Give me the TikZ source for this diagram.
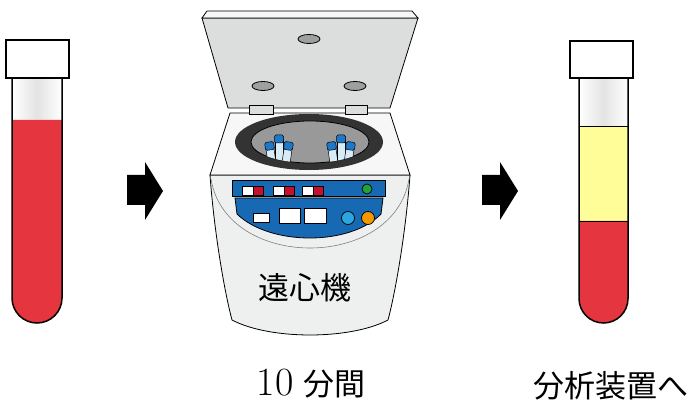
\documentclass[tikz,border=0pt]{standalone}
\usepackage{fontspec}
\newfontfamily\jp{Noto Sans CJK JP}
\usetikzlibrary{positioning}
\definecolor{blood}{HTML}{E5353F}
\definecolor{plasma}{HTML}{FEFD98}
\definecolor{lidgray}{HTML}{DCDDDD}
\definecolor{bodygray}{HTML}{EEEFEF}
\definecolor{rimgray}{HTML}{F7F7F7}
\definecolor{bowldark}{HTML}{333333}
\definecolor{bowlgray}{HTML}{999999}
\definecolor{panelblue}{HTML}{1769B4}
\definecolor{capblue}{HTML}{1E78C8}
\definecolor{glass}{HTML}{D8ECF8}
\definecolor{btnred}{HTML}{C8102E}
\definecolor{btngreen}{HTML}{22A33A}
\definecolor{btnblue}{HTML}{2AA7E0}
\definecolor{btnorange}{HTML}{F39800}
\begin{document}
\begin{tikzpicture}
[x=1pt, y=-1pt, font=\fontsize{31}{31}\selectfont]
\tikzstyle{tube}=[line width=1.5pt]
\tikzstyle{tubecap}=[draw, line width=1.5pt, fill=white]
\tikzstyle{part}=[draw, line width=0.8pt]
\tikzstyle{btn}=[draw, line width=0.7pt, fill=white]
\tikzstyle{lbl}=[inner sep=0pt]
\useasboundingbox (0,0) rectangle (691,411);

% tube before
\shade[left color=white, right color=white, middle color=gray!22] (12,78) rectangle (62,120);
\fill[blood] (12,120) -- (12,298) arc[start angle=180, end angle=0, radius=25] -- (62,120) -- cycle;
\draw[tube] (12,78) -- (12,298) arc[start angle=180, end angle=0, radius=25] -- (62,78);
\draw[tubecap] (6,40) rectangle (69,78);

% arrows
\foreach \x in {127,482}
  \fill (\x,175) -- ++(18,0) -- ++(0,-13) -- ++(18,29) -- ++(-18,29) -- ++(0,-15) -- ++(-18,0) -- cycle;

% centrifuge: front
\draw[part, fill=bodygray] (210,175) .. controls (214,230) and (224,290) .. (232,320)
  .. controls (270,340) and (350,340) .. (388,320)
  .. controls (396,290) and (406,230) .. (410,175) -- cycle;
\draw[gray, line width=0.6pt] (211,179) .. controls (226,271) and (394,271) .. (409,179);
% top and bowl
\draw[part, fill=rimgray] (230,113) -- (390,113) -- (410,175) -- (210,175) -- cycle;
\begin{scope}
\clip (230,113) -- (390,113) -- (410,175) -- (210,175) -- cycle;
\fill[bowldark] (309,142) ellipse[x radius=74, y radius=28];
\end{scope}
\draw[part, fill=bowlgray] (310,142) ellipse[x radius=59, y radius=21];
\begin{scope}
\clip (310,142) ellipse[x radius=59, y radius=21];
\foreach \x/\y/\a in {269/142/8, 279/135/0, 289/142/-8, 331/142/8, 341/135/0, 351/142/-8} {
  \begin{scope}[shift={(\x,\y)}, rotate=\a]
  \draw[line width=0.5pt, fill=glass] (-4,4) rectangle (4,40);
  \draw[line width=0.5pt, fill=capblue, rounded corners=1.5pt] (-4.5,0) rectangle (4.5,8);
  \end{scope}
}
\end{scope}
% panel
\draw[part, fill=panelblue] (232,180) rectangle (385,196);
\draw[part, fill=panelblue] (235,198) -- (383,198) -- (381,214)
  .. controls (350,246) and (270,246) .. (237,214) -- cycle;
\foreach \x in {242,273,302} {
  \draw[btn] (\x,186) rectangle ++(11,9);
  \draw[btn, fill=btnred] (\x+11,186) rectangle ++(10,9);
}
\draw[btn, fill=btngreen] (367,189) circle[radius=5];
\draw[btn] (253,213) rectangle (269,222);
\draw[btn] (279,208) rectangle (300,223);
\draw[btn] (304,208) rectangle (326,223);
\draw[btn, fill=btnblue] (348,218) circle[radius=6.5];
\draw[btn, fill=btnorange] (368,218) circle[radius=6.5];
\node[lbl] (cf) at (305,288) {\jp 遠心機};

% centrifuge: lid
\draw[part, fill=lidgray] (202,18) -- (418,18) -- (390,108) -- (228,108) -- cycle;
\draw[part, fill=rimgray] (207,11) -- (412,11) -- (418,18) -- (202,18) -- cycle;
\foreach \x/\y in {309/39, 263/86, 355/86}
  \draw[part, fill=gray!75] (\x,\y) ellipse[x radius=11, y radius=4.5];
\draw[part, fill=lidgray] (249,105) rectangle (273,114);
\draw[part, fill=lidgray] (345,105) rectangle (367,114);

% tube after
\shade[left color=white, right color=white, middle color=gray!22] (579,78) rectangle (628,126);
\fill[plasma] (579,126) rectangle (628,221);
\fill[blood] (579,221) -- (579,298.5) arc[start angle=180, end angle=0, radius=24.5] -- (628,221) -- cycle;
\draw[line width=0.8pt] (579,126) -- (628,126);
\draw[line width=0.8pt] (579,221) -- (628,221);
\draw[tube] (579,78) -- (579,298.5) arc[start angle=180, end angle=0, radius=24.5] -- (628,78);
\draw[tubecap] (570,41) rectangle (633,78);

% labels
\node[lbl, anchor=base] (time) at (311,396) {{\fontsize{40}{40}\selectfont 10} {\jp 分間}};
\node[lbl] (dest) at (611,386) {\jp 分析装置へ};
\end{tikzpicture}
\end{document}
